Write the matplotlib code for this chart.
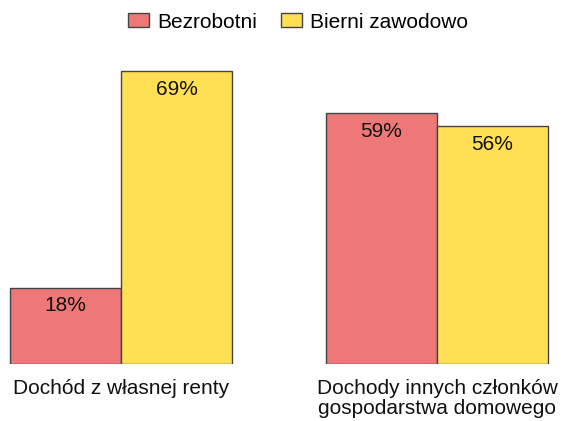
import matplotlib
matplotlib.use("Agg")
import matplotlib.pyplot as plt
import numpy as np

plt.rcParams["font.family"] = ["Liberation Sans", "DejaVu Sans"]

categories = ["Dochód z własnej renty", "Dochody innych członków\ngospodarstwa domowego"]
series_names = ["Bezrobotni", "Bierni zawodowo"]
bezrobotni = [18, 59]
bierni = [69, 56]

COLORS = ["#EE7777", "#FFE055"]
EDGE = "#444444"
FS = 15

fig = plt.figure(figsize=(5.63, 4.21), dpi=100)
# axes placed so bars line up with the reference pixel positions
ax = fig.add_axes([0, 1 - 364 / 421, 1, (364 - 24.3) / 421])

x = np.arange(len(categories))
w = 111 / 316
ax.set_xlim(-121 / 316, 1 + (563 - 437) / 316)
ax.set_ylim(0, 80)

for i, (vals, name) in enumerate(zip([bezrobotni, bierni], series_names)):
    pos = x + (i - 0.5) * w
    bars = ax.bar(pos, vals, width=w, color=COLORS[i], edgecolor=EDGE,
                  linewidth=1.0, label=name)
    for b, v in zip(bars, vals):
        ax.annotate(f"{v}%", (b.get_x() + b.get_width() / 2, v),
                    xytext=(0, -13), textcoords="offset points",
                    ha="center", va="center", fontsize=FS, color="#111111")

ax.set_xticks(x)
ax.set_xticklabels(categories, fontsize=FS, color="#111111", linespacing=1.1)
ax.tick_params(axis="x", length=0, pad=10.5)
ax.set_yticks([])
for s in ax.spines.values():
    s.set_visible(False)

fig.legend(loc="upper center", bbox_to_anchor=(298 / 563, 1.0), ncol=2, frameon=False,
           fontsize=FS, handlelength=1.0, handleheight=0.65, handletextpad=0.4,
           columnspacing=1.15, borderaxespad=0.2)

fig.savefig("out.png", dpi=100)
